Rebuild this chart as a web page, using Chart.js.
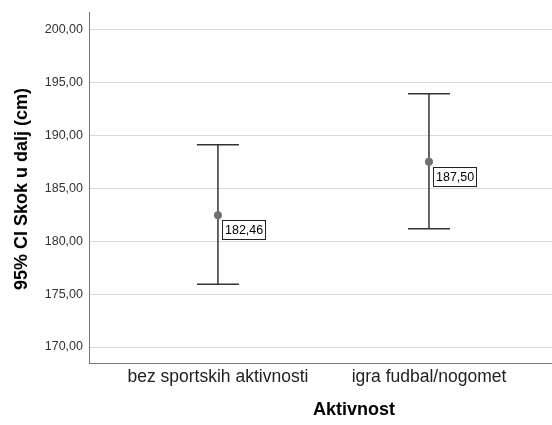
<!DOCTYPE html>
<html>
<head>
<meta charset="utf-8">
<script src="https://cdn.jsdelivr.net/npm/chart.js@4.4.1/dist/chart.umd.min.js"></script>
<style>
html,body{margin:0;padding:0;background:#fff;}
#wrap{width:552px;height:425px;position:relative;}
</style>
</head>
<body>
<div id="wrap"><canvas id="c" width="552" height="425"></canvas></div>
<script>
const categories = ['bez sportskih aktivnosti', 'igra fudbal/nogomet'];
const means = [182.46, 187.50];
const lower = [175.93, 181.17];
const upper = [189.12, 193.92];
const yTicks = [170, 175, 180, 185, 190, 195, 200];
const yTitle = '95% CI Skok u dalj (cm)';
const xTitle = 'Aktivnost';

const FONT = '"Liberation Sans", Arial, sans-serif';
const fmt = v => v.toFixed(2).replace('.', ',');

const errorBars = {
  id: 'errorBars',
  beforeDatasetsDraw(chart) {
    const {ctx, scales: {x, y}} = chart;
    ctx.save();
    ctx.strokeStyle = '#333333';
    ctx.lineWidth = 1.5;
    categories.forEach((c, i) => {
      const px = x.getPixelForValue(i);
      const yl = y.getPixelForValue(lower[i]);
      const yu = y.getPixelForValue(upper[i]);
      const capHalf = 21;
      ctx.beginPath();
      ctx.moveTo(px, yu); ctx.lineTo(px, yl);
      ctx.moveTo(px - capHalf, yu); ctx.lineTo(px + capHalf, yu);
      ctx.moveTo(px - capHalf, yl); ctx.lineTo(px + capHalf, yl);
      ctx.stroke();
    });
    ctx.restore();
  },
  afterDatasetsDraw(chart) {
    const {ctx, scales: {x, y}} = chart;
    ctx.save();
    ctx.font = '12.5px ' + FONT;
    categories.forEach((c, i) => {
      const px = x.getPixelForValue(i);
      const py = y.getPixelForValue(means[i]);
      const t = fmt(means[i]);
      const w = Math.round(ctx.measureText(t).width) + 5;
      const bx = Math.round(px + 4) + 0.5, by = Math.round(py + 5) + 0.5;
      ctx.fillStyle = '#ffffff';
      ctx.fillRect(bx, by, w, 19);
      ctx.strokeStyle = '#222222';
      ctx.lineWidth = 1;
      ctx.strokeRect(bx, by, w, 19);
      ctx.fillStyle = '#000000';
      ctx.textBaseline = 'middle';
      ctx.textAlign = 'left';
      ctx.fillText(t, bx + 2.5, by + 10);
    });
    ctx.restore();
  },
  afterDraw(chart) {
    const {ctx} = chart;
    ctx.save();
    ctx.fillStyle = '#000000';
    ctx.font = 'bold 18px ' + FONT;
    ctx.textAlign = 'center';
    ctx.textBaseline = 'middle';
    ctx.fillText(xTitle, 354, 410);
    ctx.translate(22, 189);
    ctx.rotate(-Math.PI / 2);
    ctx.fillText(yTitle, 0, 0);
    ctx.restore();
  }
};

new Chart(document.getElementById('c'), {
  type: 'scatter',
  data: {
    datasets: [{
      data: means.map((m, i) => ({x: i, y: m})),
      pointRadius: 4,
      pointHoverRadius: 4,
      pointBackgroundColor: '#707070',
      pointBorderColor: '#707070',
      pointBorderWidth: 0
    }]
  },
  options: {
    responsive: false,
    animation: false,
    devicePixelRatio: 1,
    layout: {autoPadding: false, padding: {top: 12, right: 0, left: 0, bottom: 0}},
    plugins: {legend: {display: false}, tooltip: {enabled: false}},
    scales: {
      x: {
        type: 'linear',
        min: -0.611,
        max: 1.583,
        afterBuildTicks(axis) { axis.ticks = categories.map((c, i) => ({value: i})); },
        afterFit(axis) { axis.height = 62; axis.paddingRight = 0; axis.paddingLeft = 0; },
        ticks: {
          callback: (v) => categories[v] ?? '',
          font: {family: FONT, size: 17.5},
          color: '#222222',
          padding: 4,
          maxRotation: 0,
          autoSkip: false
        },
        grid: {display: false, drawTicks: false},
        border: {display: true, color: '#777777', width: 1}
      },
      y: {
        type: 'linear',
        min: 168.49,
        max: 201.65,
        afterBuildTicks(axis) { axis.ticks = yTicks.map(v => ({value: v})); },
        afterFit(axis) { axis.width = 89; axis.paddingTop = 0; axis.paddingBottom = 0; },
        ticks: {
          callback: (v) => fmt(v),
          font: {family: FONT, size: 12.5},
          color: '#333333',
          padding: 6
        },
        grid: {color: '#d9d9d9', lineWidth: 1, drawTicks: false},
        border: {display: true, color: '#777777', width: 1}
      }
    }
  },
  plugins: [errorBars]
});
</script>
</body>
</html>
